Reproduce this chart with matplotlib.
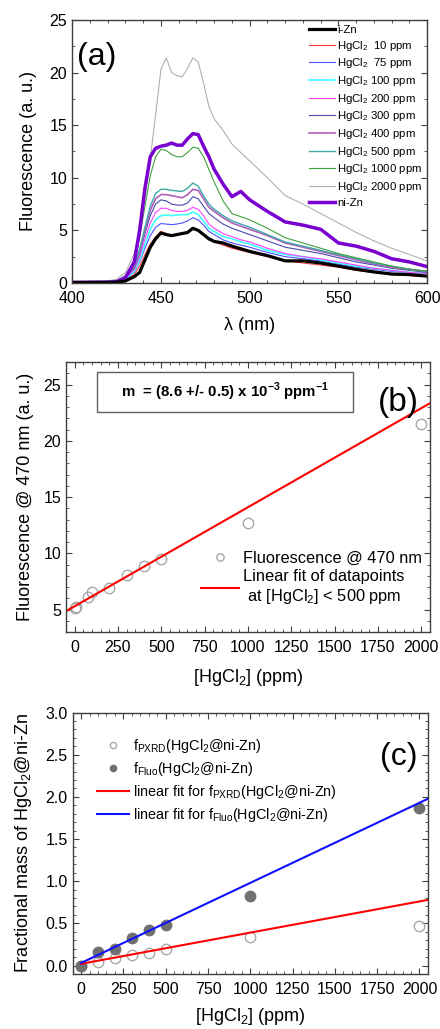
import matplotlib
matplotlib.use("Agg")
import matplotlib.pyplot as plt
from matplotlib.patches import Rectangle
from matplotlib.ticker import MultipleLocator, FormatStrFormatter
import numpy as np

plt.rcParams["font.family"] = ["Liberation Sans", "DejaVu Sans"]
plt.rcParams["mathtext.fontset"] = "custom"
plt.rcParams["mathtext.rm"] = "Liberation Sans"
plt.rcParams["mathtext.bf"] = "Liberation Sans:bold"

# ── Panel (a): emission spectra ──────────────────────────────────────────────
wavelength = [400, 420, 425, 430, 435, 438, 441, 444, 447, 450, 453, 456, 459,
              462, 465, 468, 471, 474, 477, 480, 485, 490, 495, 500, 510, 520,
              530, 540, 550, 560, 570, 580, 590, 600]
i_zn    = [0.05, 0.05, 0.07, 0.2, 0.6, 1.0, 2.2, 3.4, 4.2, 4.75, 4.6, 4.5, 4.6,
           4.7, 4.8, 5.2, 5.0, 4.6, 4.2, 3.95, 3.8, 3.5, 3.25, 3.0, 2.6, 2.1,
           2.1, 1.9, 1.6, 1.3, 1.05, 0.85, 0.8, 0.65]
hg_10   = [0.05, 0.05, 0.08, 0.25, 0.8, 1.6, 2.7, 3.7, 4.4, 4.9, 4.7, 4.55, 4.6,
           4.7, 4.8, 5.1, 5.0, 4.6, 4.1, 3.9, 3.6, 3.3, 3.1, 2.9, 2.5, 2.1,
           1.9, 1.7, 1.5, 1.2, 1.0, 0.8, 0.7, 0.6]
hg_75   = [0.05, 0.07, 0.1, 0.35, 1.0, 2.0, 3.3, 4.5, 5.3, 5.65, 5.6, 5.55, 5.6,
           5.7, 5.9, 6.2, 6.0, 5.5, 4.9, 4.6, 4.1, 3.8, 3.6, 3.4, 2.9, 2.5,
           2.3, 2.1, 1.8, 1.5, 1.3, 1.1, 1.0, 0.9]
hg_100  = [0.05, 0.07, 0.11, 0.4, 1.1, 2.2, 3.7, 5.1, 6.0, 6.4, 6.45, 6.4, 6.45,
           6.5, 6.5, 6.75, 6.5, 5.9, 5.2, 4.9, 4.4, 4.2, 3.9, 3.7, 3.1, 2.7,
           2.5, 2.2, 1.9, 1.6, 1.4, 1.2, 1.0, 0.9]
hg_200  = [0.05, 0.08, 0.13, 0.45, 1.25, 2.5, 4.2, 5.7, 6.7, 7.1, 7.1, 6.9, 6.8,
           6.8, 6.9, 7.2, 7.0, 6.4, 5.6, 5.2, 4.7, 4.4, 4.1, 3.9, 3.3, 2.8,
           2.5, 2.3, 2.0, 1.7, 1.4, 1.2, 1.0, 0.9]
hg_300  = [0.05, 0.08, 0.14, 0.5, 1.4, 2.8, 4.7, 6.4, 7.5, 7.9, 7.8, 7.5, 7.4,
           7.4, 7.6, 8.2, 8.0, 7.3, 6.6, 6.2, 5.6, 5.2, 4.9, 4.6, 4.0, 3.4,
           3.1, 2.8, 2.4, 2.0, 1.7, 1.4, 1.2, 1.0]
hg_400  = [0.05, 0.09, 0.15, 0.55, 1.5, 3.0, 5.0, 6.9, 8.0, 8.4, 8.4, 8.3, 8.2,
           8.1, 8.4, 8.9, 8.8, 8.0, 7.2, 6.8, 6.2, 5.7, 5.4, 5.1, 4.5, 3.8,
           3.4, 3.0, 2.6, 2.2, 1.8, 1.5, 1.3, 1.1]
hg_500  = [0.05, 0.09, 0.15, 0.55, 1.6, 3.2, 5.3, 7.3, 8.5, 8.9, 8.9, 8.8, 8.75,
           8.7, 9.0, 9.5, 9.2, 8.3, 7.5, 7.0, 6.4, 5.9, 5.6, 5.3, 4.6, 3.9,
           3.5, 3.1, 2.7, 2.3, 1.9, 1.6, 1.3, 1.1]
hg_1000 = [0.05, 0.1, 0.2, 0.7, 2.1, 4.3, 7.3, 10.2, 12.0, 12.7, 12.6, 12.2, 12.0,
           12.0, 12.4, 12.9, 12.8, 12.0, 10.8, 9.6, 7.8, 6.6, 6.3, 6.0, 5.2, 4.3,
           3.8, 3.3, 2.8, 2.4, 2.0, 1.6, 1.3, 1.1]
hg_2000 = [0.1, 0.2, 0.35, 1.0, 2.8, 5.0, 8.3, 11.8, 16.0, 20.3, 21.4, 20.0, 19.7,
           19.6, 20.4, 21.4, 21.0, 19.0, 16.8, 15.6, 14.5, 13.2, 12.4, 11.6, 10.0, 8.3,
           7.5, 6.6, 5.7, 4.8, 4.0, 3.3, 2.7, 2.1]
ni_zn   = [0.05, 0.08, 0.12, 0.5, 2.0, 5.0, 9.0, 12.0, 12.8, 13.0, 13.1, 13.3, 13.1,
           13.1, 13.7, 14.2, 14.1, 13.0, 12.0, 10.8, 9.4, 8.2, 8.7, 7.9, 6.8, 5.8,
           5.5, 5.1, 3.8, 3.5, 3.0, 2.3, 2.0, 1.55]

spectra_labels = ["i-Zn", r"HgCl$_2$  10 ppm", r"HgCl$_2$  75 ppm",
                  r"HgCl$_2$ 100 ppm", r"HgCl$_2$ 200 ppm", r"HgCl$_2$ 300 ppm",
                  r"HgCl$_2$ 400 ppm", r"HgCl$_2$ 500 ppm", r"HgCl$_2$ 1000 ppm",
                  r"HgCl$_2$ 2000 ppm", "ni-Zn"]

# ── Panel (b): fluorescence at 470 nm vs. concentration ──────────────────────
conc_b  = [0, 10, 75, 100, 200, 300, 400, 500, 1000, 2000]
fluo_b  = [5.1, 5.2, 6.1, 6.6, 6.9, 8.1, 8.9, 9.5, 12.7, 21.5]
fit_b_slope, fit_b_intercept = 0.0088, 5.29
fit_b_range = [-50, 2050]

# ── Panel (c): fractional mass of HgCl2@ni-Zn ────────────────────────────────
conc_c  = [0, 100, 200, 300, 400, 500, 1000, 2000]
f_pxrd  = [0.0, 0.04, 0.09, 0.12, 0.15, 0.20, 0.34, 0.47]
f_fluo  = [0.0, 0.16, 0.20, 0.33, 0.42, 0.48, 0.83, 1.87]
fit_pxrd_slope, fit_pxrd_intercept = 0.00037, 0.02
fit_fluo_slope, fit_fluo_intercept = 0.00095, 0.03
fit_c_range = [0, 2050]

TICK_FS = 11.5
LABEL_FS = 13


def style_axes(ax):
    for s in ax.spines.values():
        s.set_color("#404040")
        s.set_linewidth(1.0)
    ax.tick_params(which="both", direction="in", top=True, right=True,
                   color="#404040", labelsize=TICK_FS)
    ax.tick_params(which="major", length=4)
    ax.tick_params(which="minor", length=2)
    ax.tick_params(axis="x", which="major", pad=5.5)


fig = plt.figure(figsize=(4.4, 10.29), dpi=100)

# ── (a) ──
ax1 = fig.add_axes([0.164, 0.725, 0.807, 0.2556])
wl = np.array(wavelength)
series = [i_zn, hg_10, hg_75, hg_100, hg_200, hg_300, hg_400, hg_500,
          hg_1000, hg_2000, ni_zn]
colors = ["black", "#ff4040", "#5050ff", "#40ffff", "#ff40ff", "#4848b0",
          "#b060b8", "#40a8a8", "#40a040", "#b0b0b0", "#7a00d0"]
widths = [2.3, 0.8, 0.8, 1.2, 0.8, 0.8, 1.2, 1.0, 0.8, 0.8, 2.5]
order = [9, 1, 2, 3, 4, 5, 6, 7, 8, 10, 0]
lines = {}
for k in order:
    lines[k], = ax1.plot(wl, series[k], color=colors[k], lw=widths[k],
                         label=spectra_labels[k])
ax1.legend([lines[k] for k in range(11)], spectra_labels, loc="upper right",
           frameon=False, fontsize=8.2, handlelength=2.3, handletextpad=0.15,
           labelspacing=0.32, borderaxespad=0.15, borderpad=0.3)
ax1.set_xlim(400, 600)
ax1.set_ylim(0, 25)
ax1.xaxis.set_major_locator(MultipleLocator(50))
ax1.xaxis.set_minor_locator(MultipleLocator(10))
ax1.yaxis.set_major_locator(MultipleLocator(5))
ax1.yaxis.set_minor_locator(MultipleLocator(2.5))
ax1.set_xlabel("λ (nm)", fontsize=LABEL_FS, labelpad=8)
ax1.set_ylabel("Fluorescence (a. u.)", fontsize=LABEL_FS, labelpad=9)
ax1.text(0.015, 0.83, "(a)", transform=ax1.transAxes, fontsize=23)
style_axes(ax1)

# ── (b) ──
ax2 = fig.add_axes([0.15, 0.3858, 0.827, 0.2624])
ax2.plot(conc_b, fluo_b, "o", ms=7.5, mfc="none", mec="#a8a8a8", mew=1.0,
         label="Fluorescence @ 470 nm")
xb = np.array(fit_b_range)
ax2.plot(xb, fit_b_slope * xb + fit_b_intercept, color="red", lw=1.5,
         label="Linear fit of datapoints\n at [HgCl$_2$] < 500 ppm")
ax2.legend(loc="lower right", bbox_to_anchor=(1.0, 0.065), frameon=False,
           fontsize=11.8, markerscale=0.7, handlelength=2.3, handletextpad=0.25,
           labelspacing=0.2, borderaxespad=0.2, borderpad=0.3)
ax2.add_patch(Rectangle((0.085, 0.815), 0.703, 0.148, transform=ax2.transAxes,
                        fc="white", ec="#606060", lw=1.0, zorder=3))
ax2.text(0.437, 0.889, r"m  = (8.6 +/- 0.5) x 10$^{\mathbf{-3}}$ ppm$^{\mathbf{-1}}$",
         transform=ax2.transAxes, ha="center", va="center", fontsize=10.8,
         fontweight="bold", zorder=4)
ax2.text(0.97, 0.82, "(b)", transform=ax2.transAxes, ha="right", fontsize=24)
ax2.set_xlim(-50, 2050)
ax2.set_ylim(3, 27)
ax2.xaxis.set_major_locator(MultipleLocator(250))
ax2.xaxis.set_minor_locator(MultipleLocator(50))
ax2.yaxis.set_major_locator(MultipleLocator(5))
ax2.yaxis.set_minor_locator(MultipleLocator(1))
ax2.set_xlabel("[HgCl$_2$] (ppm)", fontsize=LABEL_FS, labelpad=9)
ax2.set_ylabel("Fluorescence @ 470 nm (a. u.)", fontsize=LABEL_FS, labelpad=7)
style_axes(ax2)

# ── (c) ──
ax3 = fig.add_axes([0.165, 0.0535, 0.8075, 0.254])
ax3.plot(conc_c, f_pxrd, "o", ms=7.5, mfc="none", mec="#a8a8a8", mew=1.0,
         label="f$_{\\mathrm{PXRD}}$(HgCl$_2$@ni-Zn)")
ax3.plot(conc_c, f_fluo, "o", ms=7.5, mfc="#707070", mec="#707070",
         label="f$_{\\mathrm{Fluo}}$(HgCl$_2$@ni-Zn)")
xc = np.array(fit_c_range)
ax3.plot(xc, fit_pxrd_slope * xc + fit_pxrd_intercept, color="red", lw=1.5,
         label="linear fit for f$_{\\mathrm{PXRD}}$(HgCl$_2$@ni-Zn)")
ax3.plot(xc, fit_fluo_slope * xc + fit_fluo_intercept, color="#1010ff", lw=1.5,
         label="linear fit for f$_{\\mathrm{Fluo}}$(HgCl$_2$@ni-Zn)")
ax3.legend(loc="upper left", frameon=False, fontsize=10.4, markerscale=0.6,
           handlelength=2.2, handletextpad=0.3, labelspacing=0.35,
           borderaxespad=1.3)
ax3.text(0.97, 0.80, "(c)", transform=ax3.transAxes, ha="right", fontsize=23)
ax3.set_xlim(-50, 2050)
ax3.set_ylim(-0.1, 3.0)
ax3.xaxis.set_major_locator(MultipleLocator(250))
ax3.xaxis.set_minor_locator(MultipleLocator(50))
ax3.yaxis.set_major_locator(MultipleLocator(0.5))
ax3.yaxis.set_minor_locator(MultipleLocator(0.1))
ax3.yaxis.set_major_formatter(FormatStrFormatter("%.1f"))
ax3.set_xlabel("[HgCl$_2$] (ppm)", fontsize=LABEL_FS, labelpad=7)
ax3.set_ylabel("Fractional mass of HgCl$_2$@ni-Zn", fontsize=LABEL_FS, labelpad=8)
style_axes(ax3)

fig.savefig("out.png", dpi=100)
